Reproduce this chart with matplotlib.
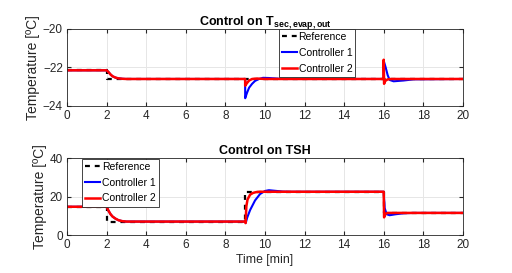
import numpy as np
import matplotlib
matplotlib.use("Agg")
import matplotlib.pyplot as plt

plt.rcParams['font.family'] = ['Liberation Sans', 'DejaVu Sans']

# -------------------------------------------------------------------
# Data (time in minutes)
# -------------------------------------------------------------------
# top panel: T_sec,evap,out
t_ref_top = [0, 2, 2, 20]
y_ref_top = [-22.15, -22.15, -22.6, -22.6]

t_c1_top = [0, 2, 2.1, 2.2, 2.3, 2.45, 2.6, 2.8, 3.0, 9.0, 9.0, 9.1, 9.2, 9.35,
            9.5, 9.7, 9.9, 10.2, 10.6, 11, 16, 16.0, 16.1, 16.2, 16.3, 16.5,
            17, 17.5, 20]
y_c1_top = [-22.15, -22.15, -22.25, -22.37, -22.46, -22.53, -22.57, -22.59,
            -22.6, -22.6, -23.6, -23.3, -23.05, -22.85, -22.7, -22.6, -22.54,
            -22.55, -22.58, -22.6, -22.6, -21.65, -22.0, -22.4, -22.65, -22.72,
            -22.68, -22.62, -22.6]

t_c2_top = [0, 2, 2.1, 2.2, 2.3, 2.45, 2.6, 2.8, 3.0, 9.0, 9.0, 9.1, 9.2, 9.35,
            9.6, 10, 16, 16.0, 16.02, 16.08, 16.2, 16.4, 20]
y_c2_top = [-22.15, -22.15, -22.25, -22.37, -22.46, -22.53, -22.57, -22.59,
            -22.6, -22.6, -22.95, -22.8, -22.68, -22.6, -22.58, -22.6, -22.6,
            -21.6, -22.85, -22.7, -22.62, -22.6, -22.6]

# bottom panel: TSH
t_ref_bot = [0, 2, 2, 9, 9, 16, 16, 20]
y_ref_bot = [14.7, 14.7, 7, 7, 22.5, 22.5, 11.5, 11.5]

t_c1_bot = [0, 2, 2.1, 2.2, 2.3, 2.45, 2.6, 2.8, 3.0, 9.0, 9.03, 9.1, 9.25,
            9.5, 9.75, 10.0, 10.2, 10.5, 10.9, 11.3, 16, 16.05, 16.15, 16.3,
            16.6, 17, 17.5, 20]
y_c1_bot = [14.7, 14.7, 12.5, 10.8, 9.6, 8.5, 7.7, 7.2, 7.0, 7.0, 6.3, 9.0,
            13.0, 18.0, 21.3, 22.9, 23.3, 23.0, 22.6, 22.5, 22.5, 14.0, 10.8,
            10.3, 10.8, 11.3, 11.5, 11.5]

t_c2_bot = [0, 2, 2.1, 2.2, 2.3, 2.45, 2.6, 2.8, 3.0, 9.0, 9.02, 9.06, 9.12,
            9.25, 9.4, 9.55, 9.75, 16, 16.02, 16.08, 16.2, 20]
y_c2_bot = [14.7, 14.7, 12.5, 10.8, 9.6, 8.5, 7.7, 7.2, 7.0, 7.0, 6.2, 15.0,
            18.5, 21.0, 21.9, 22.3, 22.5, 22.5, 9.2, 11.0, 11.5, 11.5]

labels = ["Reference", "Controller 1", "Controller 2"]

# -------------------------------------------------------------------
# Plot
# -------------------------------------------------------------------
fig = plt.figure(figsize=(5.12, 2.73), dpi=100)
ax1 = fig.add_axes([0.131, 0.612, 0.773, 0.282])
ax2 = fig.add_axes([0.131, 0.139, 0.773, 0.282])

panels = [
    (ax1, t_ref_top, y_ref_top, t_c1_top, y_c1_top, t_c2_top, y_c2_top),
    (ax2, t_ref_bot, y_ref_bot, t_c1_bot, y_c1_bot, t_c2_bot, y_c2_bot),
]

for ax, tr, yr, t1, y1, t2, y2 in panels:
    ax.plot(tr, yr, color="black", lw=1.6, ls=(0, (2.2, 2.2)), label=labels[0])
    ax.plot(t1, y1, color="blue", lw=1.5, label=labels[1])
    ax.plot(t2, y2, color="red", lw=1.8, label=labels[2])
    ax.set_xlim(0, 20)
    ax.set_xticks(np.arange(0, 21, 2))
    ax.grid(True, color="#e6e6e6", lw=0.7)
    ax.set_axisbelow(True)
    ax.tick_params(direction="in", length=3, labelsize=8.5, colors="#262626",
                   top=True, right=True, pad=3)
    for sp in ax.spines.values():
        sp.set_color("#262626")
        sp.set_linewidth(0.6)
    ax.set_ylabel("Temperature [ºC]", fontsize=10, color="#262626", labelpad=2)

ax1.set_ylim(-24, -20)
ax1.set_yticks([-24, -22, -20])
ax2.set_ylim(0, 40)
ax2.set_yticks([0, 20, 40])

ax1.set_title(r"Control on T$_{\mathregular{sec,evap,out}}$", fontsize=9,
              fontweight="bold", pad=3)
ax2.set_title("Control on TSH", fontsize=9, fontweight="bold", pad=3)
ax2.set_xlabel("Time [min]", fontsize=8.8, color="#262626", labelpad=2)

leg_kw = dict(fontsize=7.5, handlelength=1.45, handletextpad=0.15,
              borderpad=0.3, labelspacing=0.55, fancybox=False,
              framealpha=1, edgecolor="#262626", borderaxespad=0)
l1 = ax1.legend(loc="upper left", bbox_to_anchor=(0.535, 1.0), **leg_kw)
l2 = ax2.legend(loc="upper left", bbox_to_anchor=(0.038, 0.99), **leg_kw)
for lg in (l1, l2):
    lg.get_frame().set_linewidth(0.6)

fig.savefig("out.png", dpi=100)
